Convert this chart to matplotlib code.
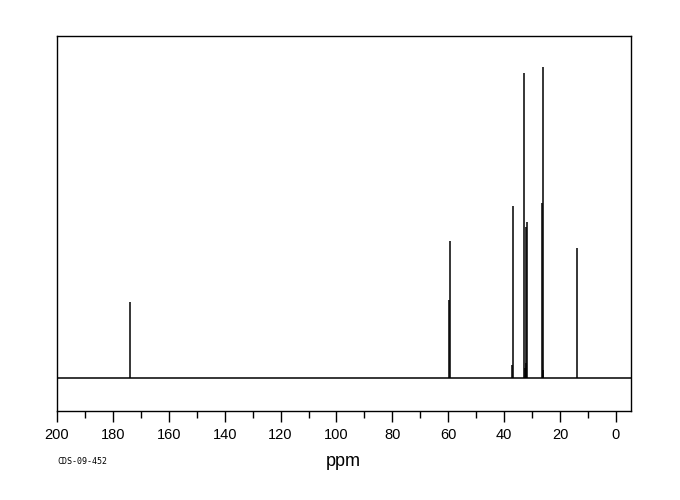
import matplotlib
matplotlib.use("Agg")
import matplotlib.pyplot as plt
from matplotlib.ticker import MultipleLocator

# Peak positions (ppm) and heights (arbitrary intensity units)
shifts = [173.9, 59.9, 59.5, 37.2, 37.0, 32.8, 32.6, 32.2, 32.0, 31.8, 26.4, 26.2, 26.0, 13.8]
heights = [76, 78, 137, 13, 172, 305, 10, 151, 15, 156, 175, 8, 311, 130]
xticks = [200, 180, 160, 140, 120, 100, 80, 60, 40, 20, 0]
code_label = "CDS-09-452"

fig = plt.figure(figsize=(6.8, 5.0), dpi=100)
ax = fig.add_axes([57/680, 89/500, (631-57)/680, (411-36)/500])

ax.axhline(0, color="black", lw=1.1)
ax.vlines(shifts, 0, heights, color="black", lw=1.1)

ax.set_xlim(200, -5.4)
ax.set_ylim(-33, 342)
ax.set_yticks([])
ax.set_xticks(xticks)
ax.xaxis.set_minor_locator(MultipleLocator(10))
ax.tick_params(axis="x", which="major", length=8, width=1, direction="out", pad=4,
               labelsize=10.5)
ax.tick_params(axis="x", which="minor", length=5, width=1, direction="out")
for lab in ax.get_xticklabels():
    lab.set_family(["Liberation Sans", "DejaVu Sans"])
for s in ax.spines.values():
    s.set_linewidth(1.0)
    s.set_color("black")

fig.text(343/680, 1 - 461/500, "ppm", ha="center", va="center", fontsize=13,
         family=["Liberation Sans", "DejaVu Sans"])
fig.text(57/680, 1 - 462/500, code_label, ha="left", va="center", fontsize=6,
         family="DejaVu Sans Mono")

fig.savefig("out.png", dpi=100)
